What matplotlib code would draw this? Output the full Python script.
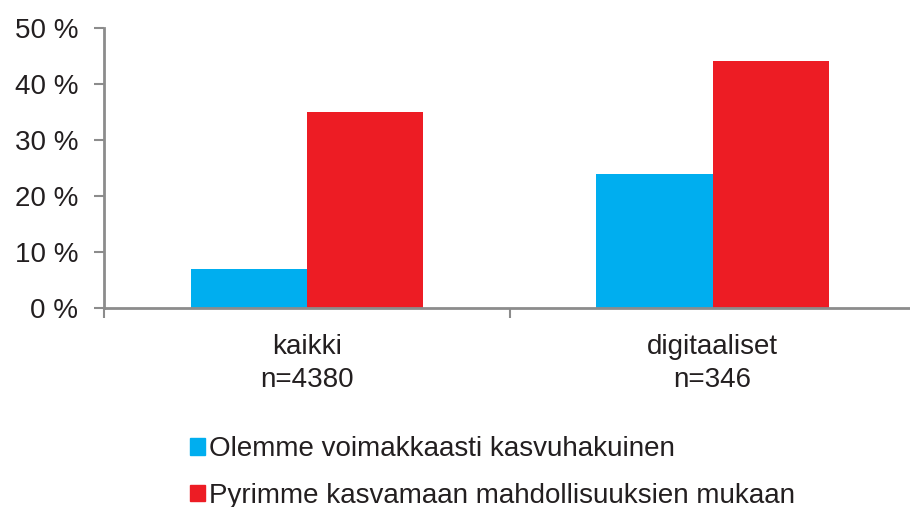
import matplotlib.pyplot as plt
import numpy as np
from matplotlib.patches import Patch

plt.rcParams['font.family'] = ['Liberation Sans', 'DejaVu Sans']

# Data
categories = ['kaikki\nn=4380', 'digitaaliset\nn=346']
series_names = ['Olemme voimakkaasti kasvuhakuinen',
                'Pyrimme kasvamaan mahdollisuuksien mukaan']
blue_vals = [7, 24]
red_vals = [35, 44]
yticks = [0, 10, 20, 30, 40, 50]

blue = '#00AEEF'
red = '#ED1C24'
axis_gray = '#8c8c8c'
text_col = '#231f20'

fig = plt.figure(figsize=(9.1, 5.07), dpi=100)
ax = fig.add_axes([0.114, 0.3925, 0.892, 0.5525])

x = np.arange(len(categories))
w = 0.286
ax.bar(x - w / 2, blue_vals, width=w, color=blue)
ax.bar(x + w / 2, red_vals, width=w, color=red)

ax.set_xlim(-0.5, 1.5)
ax.set_ylim(0, 50)

# y axis
ax.set_yticks(yticks)
ax.set_yticklabels([f'{v} %' for v in yticks], fontsize=20, color=text_col)
ax.tick_params(axis='y', length=7.5, width=1.5, color=axis_gray, pad=11)

# x axis: labels at centres, ticks at boundaries
ax.set_xticks(x)
ax.set_xticklabels(categories, fontsize=20, color=text_col, linespacing=1.35)
ax.tick_params(axis='x', which='major', length=0, pad=19)
ax.set_xticks([-0.5, 0.5, 1.5], minor=True)
ax.tick_params(axis='x', which='minor', length=7.5, width=1.5, color=axis_gray)

for side in ['top', 'right']:
    ax.spines[side].set_visible(False)
for side in ['left', 'bottom']:
    ax.spines[side].set_color(axis_gray)
    ax.spines[side].set_linewidth(2)

handles = [Patch(color=blue), Patch(color=red)]
leg = fig.legend(handles, series_names, loc='upper left',
                 bbox_to_anchor=(190 / 910, 1 - 436 / 507),
                 bbox_transform=fig.transFigure,
                 frameon=False, fontsize=20, handlelength=0.55, handleheight=0.55,
                 handletextpad=0.15, labelspacing=0.75, borderaxespad=0,
                 borderpad=0)
for t in leg.get_texts():
    t.set_color(text_col)

plt.savefig('out.png', dpi=100)
